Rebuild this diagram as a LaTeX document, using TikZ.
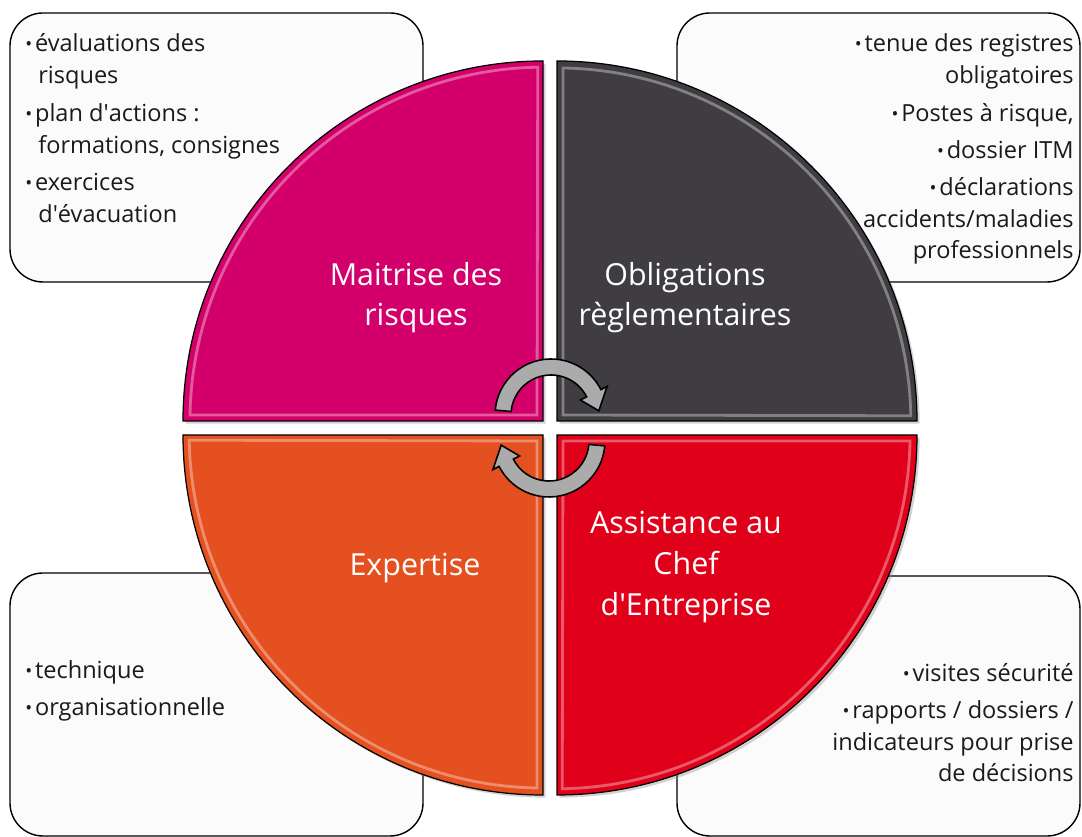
\documentclass[tikz,border=0pt]{standalone}
\usepackage{fontspec}
\setmainfont{Open Sans}
\usetikzlibrary{shadows}
\definecolor{pinkq}{HTML}{D3006B}
\definecolor{darkq}{HTML}{3F3D42}
\definecolor{redq}{HTML}{E0001A}
\definecolor{orangeq}{HTML}{E4501F}
\definecolor{boxfill}{HTML}{FBFBFB}
\definecolor{arrowgray}{HTML}{ABABAB}
\definecolor{itemtext}{HTML}{1A1A1A}
\newcommand{\bul}{\raisebox{0.6pt}{\fontsize{10.5}{10}\selectfont •}\hspace{1.6pt}}
\newcommand{\ap}{\textquotesingle}
\begin{document}
\begin{tikzpicture}[x=0.02cm,y=0.02cm,
  infobox/.style={draw=black, line width=0.8pt, fill=boxfill, rounded corners=0.66cm},
  quad/.style={draw=black, line width=0.7pt, drop shadow={shadow xshift=1.5pt,shadow yshift=-1.5pt,opacity=0.35}},
  bevel/.style={draw=white, line width=1.6pt, opacity=0.35},
  qlabel/.style={text=white, font=\fontsize{17.3}{20}\selectfont, inner sep=0pt, anchor=base},
  itemL/.style={text=itemtext, font=\fontsize{13.4}{16}\selectfont, inner sep=0pt, anchor=base west},
  itemR/.style={text=itemtext, font=\fontsize{13.4}{16}\selectfont, inner sep=0pt, anchor=base east},
  cyclearrow/.style={draw=black, line width=0.9pt, fill=arrowgray}
]
\useasboundingbox (0,0) rectangle (1082,837);

% information boxes
\draw[infobox] (10,555) rectangle (423,824);
\draw[infobox] (677,555) rectangle (1080,824);
\draw[infobox] (10,1) rectangle (423,264);
\draw[infobox] (677,1) rectangle (1080,261);

% quadrants
\draw[quad, fill=pinkq] (543,416) -- (183,416) arc[start angle=180,end angle=90,radius=360] -- cycle;
\draw[quad, fill=darkq] (557,416) -- (557,776) arc[start angle=90,end angle=0,radius=360] -- cycle;
\draw[quad, fill=redq] (557,402) -- (917,402) arc[start angle=0,end angle=-90,radius=360] -- cycle;
\draw[quad, fill=orangeq] (543,402) -- (543,42) arc[start angle=-90,end angle=-180,radius=360] -- cycle;

% bevel highlights
\draw[bevel] (537,422) -- (190,422) arc[start angle=179,end angle=91,radius=354] -- cycle;
\draw[bevel] (563,422) -- (563,769) arc[start angle=89,end angle=1,radius=354] -- cycle;
\draw[bevel] (563,396) -- (910,396) arc[start angle=-1,end angle=-89,radius=354] -- cycle;
\draw[bevel] (537,396) -- (537,49) arc[start angle=-91,end angle=-179,radius=354] -- cycle;

% quadrant labels
\node[qlabel] (m1) at (416,551) {Maitrise des};
\node[qlabel] (m2) at (416,511) {risques};
\node[qlabel] (o1) at (685,551) {Obligations};
\node[qlabel] (o2) at (685,511) {règlementaires};
\node[qlabel] (a1) at (686,303) {Assistance au};
\node[qlabel] (a2) at (686,262) {Chef};
\node[qlabel] (a3) at (686,221) {d\ap Entreprise};
\node[qlabel] (e1) at (415,261) {Expertise};

% cycle arrows
\begin{scope}[shift={(551,422)}]
\draw[cyclearrow] (175:56) arc[start angle=175,end angle=27,radius=56] -- (27:63) -- (5:48) -- (27:33) -- (27:40) arc[start angle=27,end angle=175,radius=40] -- cycle;
\end{scope}
\begin{scope}[shift={(549,396)}]
\draw[cyclearrow] (-5:56) arc[start angle=-5,end angle=-153,radius=56] -- (-153:63) -- (-175:48) -- (-153:33) -- (-153:40) arc[start angle=-153,end angle=-5,radius=40] -- cycle;
\end{scope}

% top-left items
\node[itemL] (tl1) at (25,785) {\bul évaluations des};
\node[itemL] (tl2) at (38,753) {risques};
\node[itemL] (tl3) at (25,715) {\bul plan d\ap actions :};
\node[itemL] (tl4) at (38,683) {formations, consignes};
\node[itemL] (tl5) at (25,646) {\bul exercices};
\node[itemL] (tl6) at (38,614) {d\ap évacuation};

% top-right items
\node[itemR] (tr1) at (1074,785) {\bul tenue des registres};
\node[itemR] (tr2) at (1074,753) {obligatoires};
\node[itemR] (tr3) at (1074,715) {\bul Postes à risque,};
\node[itemR] (tr4) at (1074,678) {\bul dossier ITM};
\node[itemR] (tr5) at (1074,641) {\bul déclarations};
\node[itemR] (tr6) at (1074,609) {accidents/maladies};
\node[itemR] (tr7) at (1074,578) {professionnels};

% bottom-left items
\node[itemL] (bl1) at (25,158) {\bul technique};
\node[itemL] (bl2) at (25,121) {\bul organisationnelle};

% bottom-right items
\node[itemR] (br1) at (1074,155) {\bul visites sécurité};
\node[itemR] (br2) at (1074,118) {\bul rapports / dossiers /};
\node[itemR] (br3) at (1074,86) {indicateurs pour prise};
\node[itemR] (br4) at (1074,55) {de décisions};
\end{tikzpicture}
\end{document}
